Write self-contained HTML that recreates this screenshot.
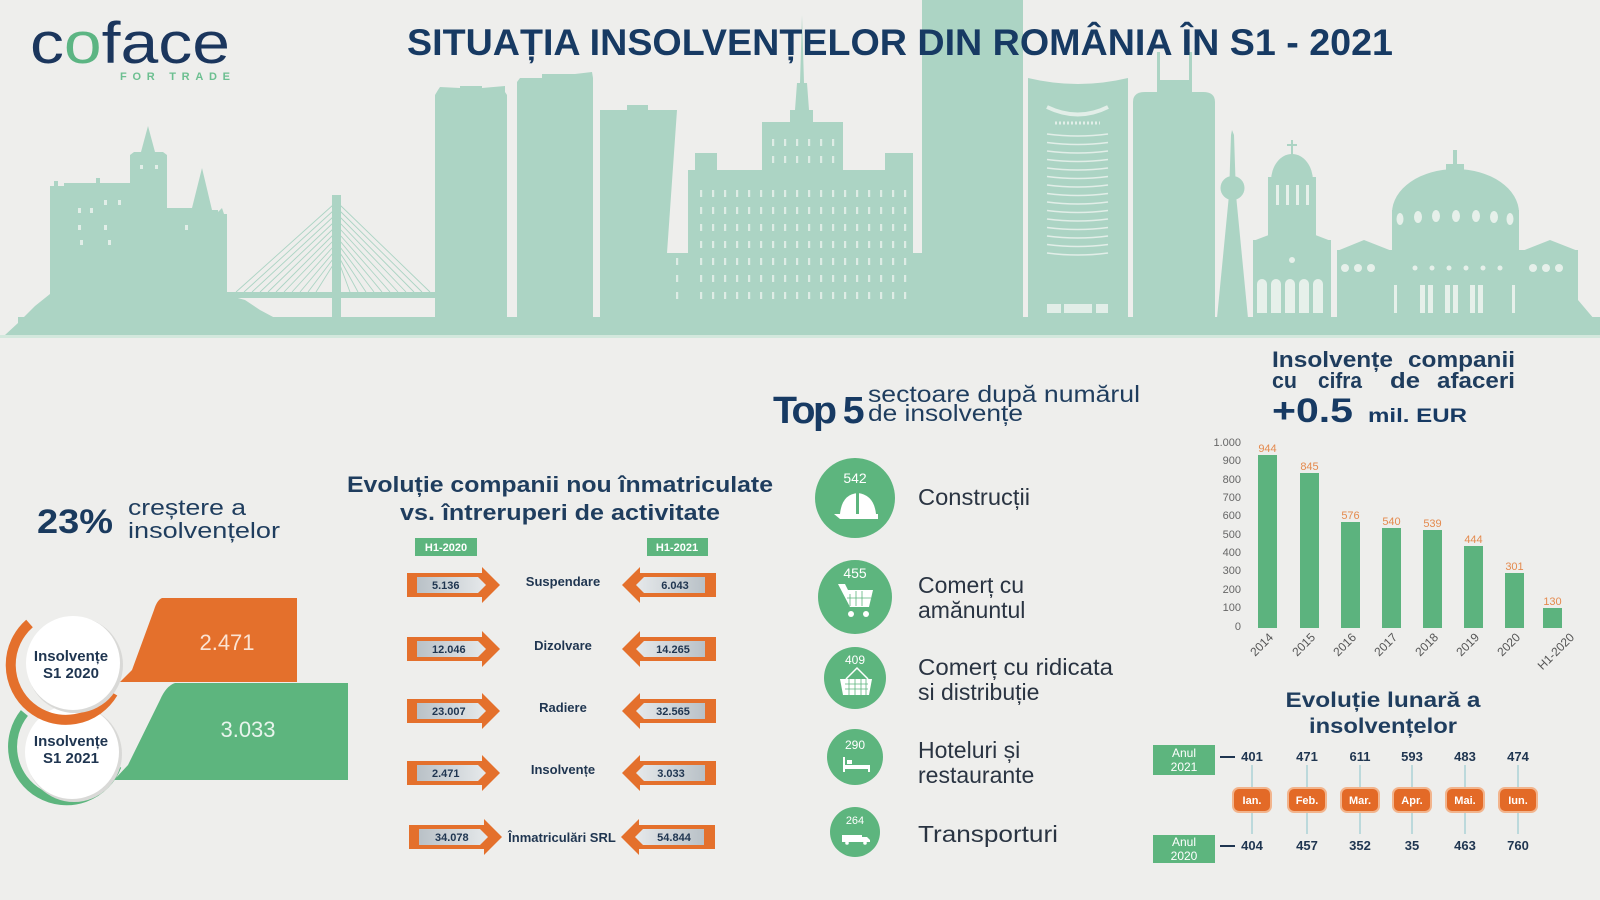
<!DOCTYPE html>
<html><head><meta charset="utf-8">
<style>
html,body{margin:0;padding:0;background:#eeeeec;width:1600px;height:900px;overflow:hidden}
svg{display:block}
</style></head>
<body>
<svg width="1600" height="900" viewBox="0 0 1600 900" xmlns="http://www.w3.org/2000/svg" font-family="'Liberation Sans', sans-serif">
<defs>
<pattern id="win" x="0" y="0" width="12" height="17" patternUnits="userSpaceOnUse"><rect x="4" y="3" width="2.2" height="7" fill="#deece5"/></pattern>
<linearGradient id="lab" x1="0" x2="1" y1="0" y2="0"><stop offset="0" stop-color="#b9c1c7"/><stop offset="1" stop-color="#e6e9eb"/></linearGradient>
<linearGradient id="labr" x1="1" x2="0" y1="0" y2="0"><stop offset="0" stop-color="#b9c1c7"/><stop offset="1" stop-color="#e6e9eb"/></linearGradient>
</defs>
<rect width="1600" height="900" fill="#eeeeec"/>

<!-- SKYLINE -->
<g fill="#acd4c4">
<rect x="18" y="317" width="1582" height="18"/>
<path d="M1578,250 L1578,300 L1600,326 L1600,335 L1578,335 Z"/>
<path d="M5,335 L18,323 L35,306 L50,294 L50,186 L54,186 L54,181 L58,181 L58,186 L64,186 L64,183 L96,183 L96,178 L100,178 L100,183 L130,183 L130,155 L134,152 L141,152 L148,126 L155,152 L163,152 L167,155 L167,208 L192,208 L202,168 L212,210 L218,210 L218,212 L222,208 L224,214 L227,214 L227,295 L245,300 L260,310 L275,318 L275,335 Z"/>
<rect x="332" y="195" width="9" height="123"/>
<rect x="227" y="292" width="208" height="6"/>
<path d="M333,205L236,292M333,211L244,292M333,217L252,292M333,223L260,292M333,229L268,292M333,235L276,292M333,241L284,292M333,247L292,292M333,253L300,292M333,259L308,292M333,265L316,292M340,205L430,292M340,211L422,292M340,217L414,292M340,223L406,292M340,229L398,292M340,235L390,292M340,241L382,292M340,247L374,292M340,253L366,292M340,259L358,292M340,265L350,292" stroke="#acd4c4" stroke-width="0.9" fill="none"/>
<path d="M435,318 L435,95 L438,90 L440,87 L460,88 L460,86 L482,86 L482,88 L505,86 L505,92 L507,95 L507,318 Z"/>
<path d="M517,318 L517,82 L520,78 L542,78 L542,74 L575,74 L592,72 L593,78 L593,318 Z"/>
<path d="M600,318 L600,110 L627,110 L627,105 L648,105 L648,110 L677,110 L667,253 L667,318 Z"/>
<path d="M660,318 L665,253 L688,253 L688,170 L695,170 L695,153 L717,153 L717,170 L762,170 L762,122 L790,122 L790,110 L795,110 L797,83 L800,83 L802,15 L804,83 L807,83 L809,110 L813,110 L813,122 L843,122 L843,170 L885,170 L885,153 L913,153 L913,253 L922,253 L922,318 Z"/>
<rect x="922" y="0" width="101" height="318"/>
<path d="M1028,318 L1028,78 Q1078,90 1128,78 L1128,318 Z"/>
<path d="M1133,318 L1133,102 Q1133,92 1145,92 L1203,92 Q1215,92 1215,102 L1215,318 Z"/>
<rect x="1157" y="80" width="35" height="14"/>
<rect x="1157" y="52" width="3" height="30"/>
<rect x="1189" y="52" width="3" height="30"/>
<path d="M1217,318 L1229,195 L1231,135 L1232,130 L1234,135 L1236,195 L1248,318 Z"/>
<circle cx="1232.5" cy="188" r="12"/>
<rect x="1253" y="240" width="78" height="78"/>
<path d="M1253,241 L1292,226 L1331,241 Z"/>
<rect x="1268" y="177" width="48" height="64"/>
<path d="M1271,181 A21,27 0 0 1 1313,181 Z"/>
<rect x="1291" y="140" width="2" height="16"/>
<rect x="1287" y="144" width="10" height="2"/>
<rect x="1337" y="250" width="241" height="68"/>
<path d="M1337,251 L1364,240 L1392,251 Z"/>
<path d="M1522,251 L1550,240 L1578,251 Z"/>
<rect x="1392" y="210" width="127" height="42"/>
<path d="M1392,213 A63.5,44 0 0 1 1519,213 Z"/>
<rect x="1446" y="164" width="18" height="10"/>
<rect x="1453" y="150" width="4" height="16"/>
</g>
<g fill="#e2eee8">
<rect x="697" y="186" width="212" height="115" fill="url(#win)"/>
<rect x="766" y="132" width="74" height="34" fill="url(#win)"/>
<rect x="668" y="258" width="18" height="45" fill="url(#win)"/>
<rect x="78" y="208" width="3" height="5"/><rect x="90" y="208" width="3" height="5"/><rect x="104" y="200" width="3" height="5"/><rect x="118" y="200" width="3" height="5"/>
<rect x="78" y="225" width="3" height="5"/><rect x="104" y="225" width="3" height="5"/><rect x="80" y="240" width="3" height="5"/><rect x="108" y="240" width="3" height="5"/>
<rect x="140" y="165" width="3" height="4"/><rect x="155" y="165" width="3" height="4"/><rect x="185" y="225" width="3" height="5"/>
<rect x="1047" y="304" width="14" height="9"/><rect x="1064" y="304" width="28" height="9"/><rect x="1096" y="304" width="12" height="9"/>
</g>
<g stroke="#e2eee8" fill="none">
<path d="M1047,107 Q1078,122 1108,107" stroke-width="4"/>
<path d="M1055,123 L1100,123" stroke-width="3" stroke-dasharray="2,2"/>
<path d="M1047,134 Q1078,138 1108,134 M1047,142.5 Q1078,146.5 1108,142.5 M1047,151 Q1078,155 1108,151 M1047,159.5 Q1078,163.5 1108,159.5 M1047,168 Q1078,172 1108,168 M1047,176.5 Q1078,180.5 1108,176.5 M1047,185 Q1078,189 1108,185 M1047,193.5 Q1078,197.5 1108,193.5 M1047,202 Q1078,206 1108,202 M1047,210.5 Q1078,214.5 1108,210.5 M1047,219 Q1078,223 1108,219 M1047,227.5 Q1078,231.5 1108,227.5 M1047,236 Q1078,240 1108,236 M1047,244.5 Q1078,248.5 1108,244.5 M1047,253 Q1078,257 1108,253" stroke-width="1.6"/>
</g>
<g fill="#e6f0ea">
<path d="M1257,313 L1257,284 A5,5 0 0 1 1267,284 L1267,313 Z M1271,313 L1271,284 A5,5 0 0 1 1281,284 L1281,313 Z M1285,313 L1285,284 A5,5 0 0 1 1295,284 L1295,313 Z M1299,313 L1299,284 A5,5 0 0 1 1309,284 L1309,313 Z M1313,313 L1313,284 A5,5 0 0 1 1323,284 L1323,313 Z"/>
<circle cx="1292" cy="260" r="3"/>
<rect x="1276" y="185" width="3" height="20"/><rect x="1286" y="185" width="3" height="20"/><rect x="1296" y="185" width="3" height="20"/><rect x="1306" y="185" width="3" height="20"/>
<ellipse cx="1400" cy="219" rx="3.5" ry="6"/><ellipse cx="1418" cy="217" rx="4" ry="6"/><ellipse cx="1436" cy="216" rx="4" ry="6"/><ellipse cx="1456" cy="216" rx="4" ry="6"/><ellipse cx="1476" cy="216" rx="4" ry="6"/><ellipse cx="1494" cy="217" rx="4" ry="6"/><ellipse cx="1510" cy="219" rx="3.5" ry="6"/>
<circle cx="1415" cy="268" r="2.5"/><circle cx="1432" cy="268" r="2.5"/><circle cx="1449" cy="268" r="2.5"/><circle cx="1466" cy="268" r="2.5"/><circle cx="1483" cy="268" r="2.5"/><circle cx="1500" cy="268" r="2.5"/>
<circle cx="1345" cy="268" r="4"/><circle cx="1358" cy="268" r="4"/><circle cx="1371" cy="268" r="4"/><circle cx="1533" cy="268" r="4"/><circle cx="1546" cy="268" r="4"/><circle cx="1559" cy="268" r="4"/>
<rect x="1394" y="285" width="3" height="28"/><rect x="1420" y="285" width="5" height="28"/><rect x="1428" y="285" width="5" height="28"/><rect x="1445" y="285" width="5" height="28"/><rect x="1453" y="285" width="5" height="28"/><rect x="1470" y="285" width="5" height="28"/><rect x="1478" y="285" width="5" height="28"/><rect x="1512" y="285" width="3" height="28"/>
</g>
<rect x="0" y="335" width="1600" height="3" fill="#d3e8dd"/>

<!-- LOGO -->
<text x="30" y="63" font-size="58" fill="#1b365d" textLength="200" lengthAdjust="spacingAndGlyphs">c<tspan fill="#5cb583">o</tspan>face</text>
<text x="120" y="80" font-size="11" font-weight="bold" fill="#6cbf90" textLength="110" lengthAdjust="spacing">FOR TRADE</text>

<!-- TITLE -->
<text x="407" y="55" font-size="37.5" font-weight="bold" fill="#173a63" textLength="986" lengthAdjust="spacingAndGlyphs">SITUAȚIA INSOLVENȚELOR DIN ROMÂNIA ÎN S1 - 2021</text>

<!-- LEFT SECTION -->
<text x="37" y="533" font-size="34" font-weight="bold" fill="#1a3a5e" textLength="76" lengthAdjust="spacingAndGlyphs">23%</text>
<text x="128" y="515" font-size="22" fill="#1f3d5e" textLength="118" lengthAdjust="spacingAndGlyphs">creștere a</text>
<text x="128" y="538" font-size="22" fill="#1f3d5e" textLength="152" lengthAdjust="spacingAndGlyphs">insolvențelor</text>

<path d="M175,683 L348,683 L348,780 L114,780 L128,765 L160,700 Q166,686 175,683 Z" fill="#5db57e"/>
<path d="M24.4,713 A54,54 0 1 0 117,766" fill="none" stroke="#5db57e" stroke-width="9"/>
<circle cx="74" cy="754" r="48" fill="#d9d9d7"/>
<circle cx="72" cy="752" r="47" fill="#ffffff"/>
<path d="M162,598 L297,598 L297,682 L120,682 L132,670 L154,610 Q157,600 162,598 Z" fill="#e4702c"/>
<path d="M29.5,623.5 A55,55 0 1 0 113,693" fill="none" stroke="#e4702c" stroke-width="10"/>
<circle cx="75" cy="665" r="48" fill="#d9d9d7"/>
<circle cx="73" cy="663" r="47" fill="#ffffff"/>
<text x="227" y="650" font-size="22" fill="#fbe3d3" text-anchor="middle">2.471</text>
<text x="248" y="737" font-size="22" fill="#e8f4ec" text-anchor="middle">3.033</text>
<g font-size="15" font-weight="bold" fill="#1f3550" text-anchor="middle">
<text x="71" y="661">Insolvențe</text>
<text x="71" y="678">S1 2020</text>
<text x="71" y="746">Insolvențe</text>
<text x="71" y="763">S1 2021</text>
</g>

<!-- MIDDLE SECTION -->
<text x="560" y="492" font-size="22" font-weight="bold" fill="#1f3d5e" text-anchor="middle" textLength="426" lengthAdjust="spacingAndGlyphs">Evoluție companii nou înmatriculate</text>
<text x="560" y="520" font-size="22" font-weight="bold" fill="#1f3d5e" text-anchor="middle" textLength="320" lengthAdjust="spacingAndGlyphs">vs. întreruperi de activitate</text>
<rect x="415" y="538" width="62" height="18" fill="#5db57e"/>
<rect x="647" y="538" width="61" height="18" fill="#5db57e"/>
<text x="446" y="551" font-size="11" font-weight="bold" fill="#fff" text-anchor="middle">H1-2020</text>
<text x="677" y="551" font-size="11" font-weight="bold" fill="#fff" text-anchor="middle">H1-2021</text>

<g>
<g transform="translate(0,585)">
<path d="M407,-12 L482,-12 L482,-18 L500,0 L482,18 L482,12 L407,12 Z" fill="#e4702c"/>
<path d="M417,-8 L478,-8 L486,0 L478,8 L417,8 Z" fill="url(#lab)"/>
<path d="M716,-12 L640,-12 L640,-18 L622,0 L640,18 L640,12 L716,12 Z" fill="#e4702c"/>
<path d="M705,-8 L644,-8 L636,0 L644,8 L705,8 Z" fill="url(#labr)"/>
<text x="432" y="4" font-size="11" font-weight="bold" fill="#1f3550">5.136</text>
<text x="675" y="4" font-size="11" font-weight="bold" fill="#1f3550" text-anchor="middle">6.043</text>
<text x="563" y="1" font-size="13" font-weight="bold" fill="#1f3550" text-anchor="middle">Suspendare</text>
</g>
<g transform="translate(0,649)">
<path d="M407,-12 L482,-12 L482,-18 L500,0 L482,18 L482,12 L407,12 Z" fill="#e4702c"/>
<path d="M417,-8 L478,-8 L486,0 L478,8 L417,8 Z" fill="url(#lab)"/>
<path d="M716,-12 L640,-12 L640,-18 L622,0 L640,18 L640,12 L716,12 Z" fill="#e4702c"/>
<path d="M705,-8 L644,-8 L636,0 L644,8 L705,8 Z" fill="url(#labr)"/>
<text x="432" y="4" font-size="11" font-weight="bold" fill="#1f3550">12.046</text>
<text x="673" y="4" font-size="11" font-weight="bold" fill="#1f3550" text-anchor="middle">14.265</text>
<text x="563" y="1" font-size="13" font-weight="bold" fill="#1f3550" text-anchor="middle">Dizolvare</text>
</g>
<g transform="translate(0,711)">
<path d="M407,-12 L482,-12 L482,-18 L500,0 L482,18 L482,12 L407,12 Z" fill="#e4702c"/>
<path d="M417,-8 L478,-8 L486,0 L478,8 L417,8 Z" fill="url(#lab)"/>
<path d="M716,-12 L640,-12 L640,-18 L622,0 L640,18 L640,12 L716,12 Z" fill="#e4702c"/>
<path d="M705,-8 L644,-8 L636,0 L644,8 L705,8 Z" fill="url(#labr)"/>
<text x="432" y="4" font-size="11" font-weight="bold" fill="#1f3550">23.007</text>
<text x="673" y="4" font-size="11" font-weight="bold" fill="#1f3550" text-anchor="middle">32.565</text>
<text x="563" y="1" font-size="13" font-weight="bold" fill="#1f3550" text-anchor="middle">Radiere</text>
</g>
<g transform="translate(0,773)">
<path d="M407,-12 L482,-12 L482,-18 L500,0 L482,18 L482,12 L407,12 Z" fill="#e4702c"/>
<path d="M417,-8 L478,-8 L486,0 L478,8 L417,8 Z" fill="url(#lab)"/>
<path d="M716,-12 L640,-12 L640,-18 L622,0 L640,18 L640,12 L716,12 Z" fill="#e4702c"/>
<path d="M705,-8 L644,-8 L636,0 L644,8 L705,8 Z" fill="url(#labr)"/>
<text x="432" y="4" font-size="11" font-weight="bold" fill="#1f3550">2.471</text>
<text x="671" y="4" font-size="11" font-weight="bold" fill="#1f3550" text-anchor="middle">3.033</text>
<text x="563" y="1" font-size="13" font-weight="bold" fill="#1f3550" text-anchor="middle">Insolvențe</text>
</g>
<g transform="translate(0,837)">
<path d="M409,-12 L484,-12 L484,-18 L502,0 L484,18 L484,12 L409,12 Z" fill="#e4702c"/>
<path d="M419,-8 L480,-8 L488,0 L480,8 L419,8 Z" fill="url(#lab)"/>
<path d="M715,-12 L639,-12 L639,-18 L621,0 L639,18 L639,12 L715,12 Z" fill="#e4702c"/>
<path d="M704,-8 L643,-8 L635,0 L643,8 L704,8 Z" fill="url(#labr)"/>
<text x="435" y="4" font-size="11" font-weight="bold" fill="#1f3550">34.078</text>
<text x="674" y="4" font-size="11" font-weight="bold" fill="#1f3550" text-anchor="middle">54.844</text>
<text x="562" y="5" font-size="13" font-weight="bold" fill="#1f3550" text-anchor="middle">Înmatriculări SRL</text>
</g>
</g>

<!-- TOP 5 -->
<text x="773" y="423" font-size="38" font-weight="bold" fill="#173a63" letter-spacing="-2.5" textLength="89" lengthAdjust="spacingAndGlyphs">Top 5</text>
<text x="868" y="402" font-size="23" fill="#1f3d5e" textLength="272" lengthAdjust="spacingAndGlyphs">sectoare după numărul</text>
<text x="868" y="421" font-size="23" fill="#1f3d5e" textLength="155" lengthAdjust="spacingAndGlyphs">de insolvențe</text>

<g fill="#5db57e">
<circle cx="855" cy="498" r="40"/>
<circle cx="855" cy="597" r="37"/>
<circle cx="855" cy="678" r="31"/>
<circle cx="855" cy="757" r="28"/>
<circle cx="855" cy="832" r="25"/>
</g>
<g fill="#fff" text-anchor="middle">
<text x="855" y="483" font-size="14">542</text>
<text x="855" y="578" font-size="14">455</text>
<text x="855" y="664" font-size="12">409</text>
<text x="855" y="749" font-size="12">290</text>
<text x="855" y="824" font-size="11">264</text>
</g>
<g fill="#fff">
<path d="M840,514 Q842,494 858,493 Q874,495 876,514 Z"/>
<path d="M834,514 L878,514 L878,519 L840,519 Z"/>
<rect x="856" y="493" width="3" height="21" fill="#5db57e"/>
<path d="M838,584 L845,584 L848,590 L873,590 L869,607 L850,607 Z"/>
<circle cx="851" cy="614" r="3"/><circle cx="866" cy="614" r="3"/>
<path d="M840,679 L872,679 L869,695 L843,695 Z"/>
<path d="M846,679 L857,668 L868,679" fill="none" stroke="#fff" stroke-width="1.5"/>
<rect x="843" y="757" width="2" height="15"/><rect x="843" y="765" width="27" height="4"/><rect x="868" y="765" width="2" height="7"/><rect x="847" y="760" width="5" height="4"/>
<rect x="842" y="835" width="20" height="7"/><path d="M862,837 L867,837 L870,840 L870,842 L862,842 Z"/><circle cx="847" cy="843" r="1.8"/><circle cx="865" cy="843" r="1.8"/>
</g>
<g stroke="#5db57e" stroke-width="0.8">
<path d="M850,594 L850,606 M856,591 L856,606 M862,591 L862,606 M847,598 L871,598"/>
<path d="M845,684 L868,684 M845,689 L868,689 M849,679 L849,695 M855,679 L855,695 M861,679 L861,695 M866,679 L866,695"/>
</g>
<g font-size="23" fill="#2a3442">
<text x="918" y="505" textLength="112" lengthAdjust="spacingAndGlyphs">Construcții</text>
<text x="918" y="593">Comerț cu</text>
<text x="918" y="618">amănuntul</text>
<text x="918" y="675" textLength="195" lengthAdjust="spacingAndGlyphs">Comerț cu ridicata</text>
<text x="918" y="700">si distribuție</text>
<text x="918" y="758">Hoteluri și</text>
<text x="918" y="783">restaurante</text>
<text x="918" y="842" textLength="140" lengthAdjust="spacingAndGlyphs">Transporturi</text>
</g>

<!-- BAR CHART -->
<g font-size="22" font-weight="bold" fill="#1f3d5e">
<text x="1272" y="367" textLength="121" lengthAdjust="spacingAndGlyphs">Insolvențe</text>
<text x="1515" y="367" text-anchor="end" textLength="107" lengthAdjust="spacingAndGlyphs">companii</text>
<text x="1272" y="388" textLength="25" lengthAdjust="spacingAndGlyphs">cu</text>
<text x="1318" y="388" textLength="44" lengthAdjust="spacingAndGlyphs">cifra</text>
<text x="1390" y="388" textLength="30" lengthAdjust="spacingAndGlyphs">de</text>
<text x="1515" y="388" text-anchor="end" textLength="78" lengthAdjust="spacingAndGlyphs">afaceri</text>
</g>
<text x="1272" y="422" font-size="34" font-weight="bold" fill="#173a63" textLength="81" lengthAdjust="spacingAndGlyphs">+0.5</text>
<text x="1368" y="422" font-size="19" font-weight="bold" fill="#173a63" textLength="99" lengthAdjust="spacingAndGlyphs">mil. EUR</text>
<g font-size="11" fill="#666" text-anchor="end">
<text x="1241" y="446">1.000</text><text x="1241" y="464">900</text><text x="1241" y="483">800</text><text x="1241" y="501">700</text><text x="1241" y="519">600</text><text x="1241" y="538">500</text><text x="1241" y="556">400</text><text x="1241" y="574">300</text><text x="1241" y="593">200</text><text x="1241" y="611">100</text><text x="1241" y="630">0</text>
</g>
<g fill="#5cb37e">
<rect x="1258" y="455" width="19" height="173"/>
<rect x="1300" y="473" width="19" height="155"/>
<rect x="1341" y="522" width="19" height="106"/>
<rect x="1382" y="528" width="19" height="100"/>
<rect x="1423" y="530" width="19" height="98"/>
<rect x="1464" y="546" width="19" height="82"/>
<rect x="1505" y="573" width="19" height="55"/>
<rect x="1543" y="608" width="19" height="20"/>
</g>
<g font-size="11" fill="#e48a4e" text-anchor="middle">
<text x="1267.5" y="452">944</text><text x="1309.5" y="470">845</text><text x="1350.5" y="519">576</text><text x="1391.5" y="525">540</text><text x="1432.5" y="527">539</text><text x="1473.5" y="543">444</text><text x="1514.5" y="570">301</text><text x="1552.5" y="605">130</text>
</g>
<g font-size="12" fill="#555" text-anchor="end">
<text transform="translate(1274,638) rotate(-45)">2014</text>
<text transform="translate(1316,638) rotate(-45)">2015</text>
<text transform="translate(1357,638) rotate(-45)">2016</text>
<text transform="translate(1398,638) rotate(-45)">2017</text>
<text transform="translate(1439,638) rotate(-45)">2018</text>
<text transform="translate(1480,638) rotate(-45)">2019</text>
<text transform="translate(1521,638) rotate(-45)">2020</text>
<text transform="translate(1575,638) rotate(-45)">H1-2020</text>
</g>

<!-- MONTHLY -->
<text x="1383" y="707" font-size="21" font-weight="bold" fill="#1f3d5e" text-anchor="middle" textLength="195" lengthAdjust="spacingAndGlyphs">Evoluție lunară a</text>
<text x="1383" y="733" font-size="21" font-weight="bold" fill="#1f3d5e" text-anchor="middle" textLength="148" lengthAdjust="spacingAndGlyphs">insolvențelor</text>
<rect x="1153" y="745" width="62" height="30" fill="#5db57e"/>
<rect x="1153" y="835" width="62" height="28" fill="#5db57e"/>
<g font-size="12" fill="#fff" text-anchor="middle">
<text x="1184" y="757">Anul</text><text x="1184" y="771">2021</text>
<text x="1184" y="846">Anul</text><text x="1184" y="860">2020</text>
</g>
<path d="M1220,757 L1235,757 M1220,846 L1235,846" stroke="#1f3550" stroke-width="2"/>
<g stroke="#9ccbd0" stroke-width="1.2">
<path d="M1252,765 L1252,787 M1307,765 L1307,787 M1360,765 L1360,787 M1412,765 L1412,787 M1465,765 L1465,787 M1518,765 L1518,787"/>
<path d="M1252,813 L1252,834 M1307,813 L1307,834 M1360,813 L1360,834 M1412,813 L1412,834 M1465,813 L1465,834 M1518,813 L1518,834"/>
</g>
<g fill="#e36a27" stroke="#f2b48c" stroke-width="2">
<rect x="1233" y="788" width="38" height="24" rx="6"/>
<rect x="1288" y="788" width="38" height="24" rx="6"/>
<rect x="1341" y="788" width="38" height="24" rx="6"/>
<rect x="1393" y="788" width="38" height="24" rx="6"/>
<rect x="1446" y="788" width="38" height="24" rx="6"/>
<rect x="1499" y="788" width="38" height="24" rx="6"/>
</g>
<g font-size="11" font-weight="bold" fill="#fff" text-anchor="middle">
<text x="1252" y="804">Ian.</text><text x="1307" y="804">Feb.</text><text x="1360" y="804">Mar.</text><text x="1412" y="804">Apr.</text><text x="1465" y="804">Mai.</text><text x="1518" y="804">Iun.</text>
</g>
<g font-size="13" font-weight="bold" fill="#1f3550" text-anchor="middle">
<text x="1252" y="761">401</text><text x="1307" y="761">471</text><text x="1360" y="761">611</text><text x="1412" y="761">593</text><text x="1465" y="761">483</text><text x="1518" y="761">474</text>
<text x="1252" y="850">404</text><text x="1307" y="850">457</text><text x="1360" y="850">352</text><text x="1412" y="850">35</text><text x="1465" y="850">463</text><text x="1518" y="850">760</text>
</g>
</svg>
</body></html>
